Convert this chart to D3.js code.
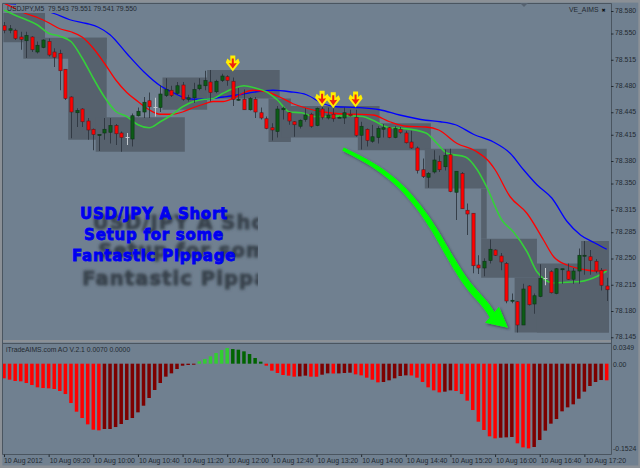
<!DOCTYPE html>
<html><head><meta charset="utf-8">
<script src="https://cdn.jsdelivr.net/npm/d3@7/dist/d3.min.js"></script>
<style>
html,body{margin:0;padding:0;background:#708090;overflow:hidden}
svg{display:block}
text{font-family:"Liberation Sans",Arial,sans-serif;white-space:pre}
</style></head><body>
<svg id="c" width="640" height="468"></svg>
<script>
// All price arrays are thousandths above PRICE_BASE.
const PRICE_BASE = 78;
const high = [564,560,555,551,551,545,538,541,542,529,527,501,465,449,449,436,422,414,436,436,428,418,416,442,450,464,470,463,480,489,479,484,484,467,483,489,499,500,487,495,493,490,476,474,464,464,450,438,429,452,451,444,432,434,449,443,450,451,450,449,438,450,447,447,431,422,427,425,428,424,425,424,419,419,398,382,364,393,386,394,395,365,364,322,309,253,249,274,261,256,244,202,192,215,213,202,241,236,233,236,235,242,236,262,272,260,248,236,223];
const low = [549,549,540,527,516,524,522,529,518,504,473,460,409,424,424,407,393,392,407,402,400,391,400,398,438,436,436,438,444,464,464,467,459,458,456,473,473,458,469,484,479,452,459,447,446,436,434,421,406,410,434,427,411,422,431,423,425,434,434,431,436,428,438,411,394,398,403,402,410,409,409,415,402,395,362,356,343,362,364,366,337,300,315,280,229,228,225,242,252,233,189,189,150,160,186,175,197,213,202,201,215,220,215,215,227,227,229,206,192];
const open = [559,553,553,544,539,544,524,530,538,524,522,501,464,443,448,432,421,413,416,417,426,416,410,408,439,444,459,450,450,466,473,469,480,461,463,475,479,484,471,486,491,485,460,461,447,461,443,435,423,418,447,443,431,425,434,441,426,448,436,441,436,436,441,437,413,421,405,410,421,423,410,421,416,404,396,367,357,364,378,371,387,337,362,313,309,240,236,246,260,252,242,192,191,160,212,188,198,222,231,202,234,232,221,232,252,251,245,233,212];
const close = [553,555,542,541,546,527,533,540,520,517,499,462,444,446,431,420,414,414,421,426,415,410,410,439,445,457,451,450,468,474,466,479,461,463,474,480,486,470,485,492,486,461,461,447,462,444,436,422,420,448,449,432,427,433,440,425,449,437,440,435,437,443,439,413,425,406,411,422,423,410,422,417,403,396,366,358,362,380,367,386,338,365,315,308,239,236,245,261,253,244,192,193,160,208,187,199,222,222,203,235,235,221,232,253,253,246,232,213,207];

const greenBars = [0,2,4,6,8,10,12,14,16,18,20,22,24,26,28,30,32,34,36,37.5,39.25,41,43,45,47,49,51.2,53.3,55.4,58,61.4,64.3,66.1,69.1,71.5,75.6,77.6,79.4,82.7,84.8,86.5,89.2,91.3,93.7,95.5,98.5,100.9,103.3,106.3,108];
const greenVals = [580,573,567,560,549,545,538,516,489,464,445,438,427,423,431,440,451,458,461,462,469,475,479,476,471,460,444,443,438,438,439,438,433,423,422,416,402,389,384,367,344,300,284,258,231,216,217,218,225,232];
const redBars = [0,2,4,6,8,10,12,14,16,18,20,22,24,26,28,30,32,34,36,37.5,39.25,41,42.8,44.6,47,49.4,51.8,54.2,57.2,59.6,63.1,66.1,69.1,72.1,75.6,77.9,81.2,84.5,86.9,88,90.7,93.7,96.7,98.5,100.9,103.9,106.3,108];
const redVals = [589,582,575,570,563,555,551,544,529,509,487,470,458,447,441,441,444,450,455,458,458,462,469,473,471,464,455,449,444,442,441,440,431,425,424,420,402,392,378,367,331,309,273,251,240,234,232,233];
const blueBars = [0,2.3,9.1,11.8,14.8,16.9,19,22,25,28,30,32,34,36,39.25,42.2,45.2,48.2,51.2,54.2,57.2,59.6,63.1,67.3,70.9,75.6,78.2,80.9,84.2,87.7,90.7,93.1,95.5,98.2,100.9,103.3,105.7,108];
const blueVals = [589,588,575,567,562,557,547,522,498,479,471,464,461,461,464,467,471,473,471,467,455,451,450,447,440,433,431,427,414,404,389,367,347,329,298,280,270,261];

// shaded supply / demand zones: start bar, end bar, upper and lower price
const zoneStart = [-0.1,3.46,11.5,16.43,28.4,36.4,47.4,49.7,63.4,75.4,85.5,85.5,91.5,95.5,103.4];
const zoneEnd   = [7.35,18.4,18.4,32.4,36.4,49.4,51.4,67.3,76.5,86.5,86.5,95.5,108.4,108.4,108.4];
const zoneTop   = [576,543,543,437,490,500,462,452,429,395,342,275,223,242,272];
const zoneBot   = [537,515,407,391,447,462,404,410,393,342,275,223,150,150,233];

const signalBars = [41,57,59,63];
const signalVals = [498,451,449,450];

const aoValues = [-.0247,-.0270,-.0292,-.0298,-.0326,-.0360,-.0399,-.0411,-.0416,-.0427,-.0461,-.0512,-.0664,-.0810,-.0917,-.1024,-.1114,-.1125,-.1102,-.1102,-.1069,-.1018,-.0950,-.0917,-.0821,-.0709,-.0579,-.0444,-.0326,-.0219,-.0163,-.0090,-.0034,-.0022,-.0017,.0039,.0079,.0124,.0180,.0231,.0264,.0247,.0236,.0208,.0163,.0096,.0034,-.0034,-.0118,-.0157,-.0191,-.0202,-.0219,-.0214,-.0202,-.0219,-.0220,-.0186,-.0163,-.0166,-.0164,-.0157,-.0152,-.0180,-.0197,-.0236,-.0270,-.0315,-.0309,-.0281,-.0247,-.0208,-.0197,-.0199,-.0236,-.0309,-.0399,-.0450,-.0484,-.0472,-.0450,-.0461,-.0512,-.0624,-.0782,-.0979,-.1119,-.1226,-.1260,-.1249,-.1243,-.1237,-.1344,-.1412,-.1429,-.1406,-.1288,-.1130,-.1012,-.0934,-.0804,-.0737,-.0686,-.0591,-.0472,-.0377,-.0309,-.0276,-.0281];

const priceTicks = [78.580,78.550,78.515,78.480,78.445,78.415,78.380,78.350,78.315,78.285,78.250,78.215,78.180,78.145];
const aoTicks = [0.0349,0,-0.1524];
const aoTickLabels = ["0.0349","0.00","-0.1524"];
const timeTickBars = [0,8,16,24,32,40,48,56,64,72,80,88,96,104];
const timeLabels = ["10 Aug 2012","10 Aug 09:20","10 Aug 10:00","10 Aug 10:40","10 Aug 11:20","10 Aug 12:00","10 Aug 12:40","10 Aug 13:20","10 Aug 14:00","10 Aug 14:40","10 Aug 15:20","10 Aug 16:00","10 Aug 16:40","10 Aug 17:20"];

const titleLines = ["USD/JPY A Short","Setup for some","Fantastic Pippage"];

// big trend arrow, in bars and price thousandths
const trendBars = [60.75,66.1,70.4,74,76.9,79.9,82.9,86.5,87.6];
const trendVals = [394.6,373.3,349.3,320,289.3,251,216,184.4,172];
const trendWidths = [3.5,4.2,4.8,5.2,5.6,6,6.4,7,7];
const headBars = [86.2,88.7,90.3];
const headVals = [163,184.4,156.4];

const BG="#708090", ZONE="#56616d", FRAME="#8b9096", AXISLINE="#4a5560", INK="#232a31";

const x = d3.scaleLinear().domain([0,108]).range([4,606.7]);
const y = d3.scaleLinear().domain([78.58,78.145]).range([10,336.25]);
const yAO = d3.scaleLinear().domain([0.0349,-0.1524]).range([343,454]);
const P = v => PRICE_BASE + v/1000;

const svg = d3.select("#c");
const defs = svg.append("defs");
defs.append("filter").attr("id","soft").attr("x","-20%").attr("y","-20%").attr("width","140%").attr("height","140%")
  .append("feGaussianBlur").attr("stdDeviation",1.5);
const sh = defs.append("filter").attr("id","drop").attr("x","-10%").attr("y","-10%").attr("width","130%").attr("height","130%");
sh.append("feDropShadow").attr("dx",1.5).attr("dy",1.5).attr("stdDeviation",1).attr("flood-color","#2c343c").attr("flood-opacity",.7);
defs.append("clipPath").attr("id","shadowClip").append("rect").attr("x",0).attr("y",190).attr("width",258).attr("height",120);
defs.append("clipPath").attr("id","mainClip").append("rect").attr("x",3).attr("y",3).attr("width",608).attr("height",338);

svg.append("rect").attr("width",640).attr("height",468).attr("fill",BG);

// zones
const main = svg.append("g").attr("clip-path","url(#mainClip)");
main.append("g").selectAll("rect").data(zoneStart).join("rect")
  .attr("x",(d)=>x(d)).attr("width",(d,i)=>x(zoneEnd[i])-x(d))
  .attr("y",(d,i)=>y(P(zoneTop[i]))).attr("height",(d,i)=>y(P(zoneBot[i]))-y(P(zoneTop[i])))
  .attr("fill",ZONE);

// blurred shadow of the title, then moving averages
const shadowG = svg.append("g").attr("clip-path","url(#shadowClip)").append("g").attr("filter","url(#soft)");
shadowG.selectAll("text").data(titleLines).join("text")
  .attr("x",190).attr("y",(d,i)=>229+i*28).attr("text-anchor","middle")
  .attr("font-size",19.5).attr("font-weight",700).style("font-family","'DejaVu Sans'")
  .attr("letter-spacing",1.1)
  .attr("fill","#39434d").attr("stroke","#39434d").attr("stroke-width",1.1).text(d=>d);

const lineGen = (bars)=>d3.line().x((d,i)=>x(bars[i])).y(d=>y(P(d))).curve(d3.curveMonotoneX);
[[blueBars,blueVals,"#0000ff",1.3],[redBars,redVals,"#ff0000",1.3],[greenBars,greenVals,"#35cf3a",1.6]].forEach(([b,v,c,w])=>{
  main.append("path").attr("d",lineGen(b)(v)).attr("fill","none").attr("stroke",c).attr("stroke-width",w);
});

// label backing that hides the lines behind the header text
svg.append("rect").attr("x",16).attr("y",4).attr("width",39).attr("height",9).attr("fill",BG);

// candles
const cg = main.append("g");
high.forEach((h,i)=>{
  const xc = Math.round(x(i))+.5;
  const o=open[i], c=close[i];
  const flat = o===c;
  const up = c>o;
  cg.append("line").attr("x1",xc).attr("x2",xc).attr("y1",y(P(h))).attr("y2",y(P(low[i])))
    .attr("stroke",flat?"#c4c9ce":"#2b343d").attr("stroke-width",1).attr("stroke-opacity",flat?1:.85);
  if(flat){
    cg.append("line").attr("x1",xc-2).attr("x2",xc+2).attr("y1",y(P(o))).attr("y2",y(P(o)))
      .attr("stroke","#c4c9ce").attr("stroke-width",1);
  } else {
    const t=y(P(Math.max(o,c))), b=y(P(Math.min(o,c)));
    cg.append("rect").attr("x",xc-1.6).attr("width",3.2).attr("y",t).attr("height",Math.max(b-t,1))
      .attr("fill",up?"#0c5c16":"#ff0000").attr("stroke",up?"#10301a":"#5b1a1e").attr("stroke-width",.6);
  }
});

// signal arrows
const sg = main.append("g");
signalBars.forEach((b,i)=>{
  const g = sg.append("g").attr("transform",`translate(${x(b)},${y(P(signalVals[i]))})`);
  g.append("path").attr("d","M-2.5,-16L2.5,-16L2.5,-10.5L5.5,-13L7,-9L0,0L-7,-9L-5.5,-13L-2.5,-10.5Z").attr("fill","#ffee00");
  g.append("path").attr("d","M-1,-13L1,-13L1,-8L4,-8.5L0,-3L-4,-8.5L-1,-8Z").attr("fill","#f02010");
});

// trend arrow, built from its centre line
(function(){
  const pts = trendBars.map((b,i)=>[x(b),y(P(trendVals[i]))]);
  const smooth = d3.line().curve(d3.curveCatmullRom);
  const p = svg.append("path").attr("d",smooth(pts)).attr("fill","none");
  const node = p.node(), L = node.getTotalLength(), left=[], right=[];
  const widthAt = d3.scaleLinear().domain(pts.map((_,i)=>i/(pts.length-1))).range(trendWidths);
  for(let s=0;s<=40;s++){
    const t=s/40, a=node.getPointAtLength(t*L), n=node.getPointAtLength(Math.min(L,t*L+.5)), m=node.getPointAtLength(Math.max(0,t*L-.5));
    const dx=n.x-m.x, dy=n.y-m.y, len=Math.hypot(dx,dy)||1, w=widthAt(t)/2;
    left.push([a.x-dy/len*w,a.y+dx/len*w]); right.unshift([a.x+dy/len*w,a.y-dx/len*w]);
  }
  p.remove();
  const g = svg.append("g").attr("filter","url(#drop)");
  g.append("path").attr("d",d3.line()(left.concat(right))+"Z").attr("fill","#00ff00");
  g.append("path").attr("d",d3.line()(headBars.map((b,i)=>[x(b),y(P(headVals[i]))]))+"Z").attr("fill","#00ff00");
})();

// blue title
svg.append("g").selectAll("text").data(titleLines).join("text")
  .attr("x",154).attr("y",(d,i)=>219.3+i*20.9).attr("text-anchor","middle")
  .attr("font-size",15).attr("font-weight",700).style("font-family","'DejaVu Sans'")
  .attr("letter-spacing",.75)
  .attr("fill","#0000f0").attr("stroke","#0000f0").attr("stroke-width",.8).text(d=>d);

// oscillator
const aoG = svg.append("g");
aoG.selectAll("rect").data(aoValues).join("rect")
  .attr("x",(d,i)=>x(i)-1.75).attr("width",3.5)
  .attr("y",d=>Math.min(yAO(0),yAO(d))).attr("height",d=>Math.abs(yAO(d)-yAO(0)))
  .attr("fill",(d,i)=>{
    const falling = i===0 || d<aoValues[i-1];
    if(d<0) return falling?"#ff0000":"#7d0000";
    return falling?"#006400":"#32cd32";
  });

// frame
const frame = svg.append("g");
frame.append("rect").attr("x",0).attr("y",0).attr("width",640).attr("height",2.6).attr("fill",FRAME);
frame.append("rect").attr("x",0).attr("y",0).attr("width",2.4).attr("height",468).attr("fill",FRAME);
frame.append("rect").attr("x",638.3).attr("y",0).attr("width",2).attr("height",468).attr("fill",FRAME);
frame.append("rect").attr("x",0).attr("y",465.5).attr("width",640).attr("height",3).attr("fill",FRAME);
frame.append("rect").attr("x",2).attr("y",340).attr("width",610).attr("height",2.4).attr("fill",FRAME);
frame.append("path").attr("d","M2.5,3.5H611.5V454.5H2.5Z M2.5,343.5H611.5").attr("fill","none").attr("stroke",AXISLINE).attr("stroke-width",1);
frame.append("path").attr("d","M520,3L528,3L524,7Z").attr("fill","#566270");

// axes
const styleAxis = g=>{ g.select(".domain").remove(); g.selectAll("line").attr("stroke",INK);
  g.selectAll("text").attr("fill",INK).attr("font-size",6.9).style("font-family","'Liberation Sans'"); };
const priceAxis = svg.append("g").attr("transform","translate(611,1)")
  .call(d3.axisRight(y).tickValues(priceTicks).tickFormat(d3.format(".3f")).tickSize(2.5).tickPadding(1.5));
styleAxis(priceAxis);
priceAxis.selectAll("text").attr("dy","0.2em");
const aoAxis = svg.append("g").attr("transform","translate(611,0)")
  .call(d3.axisRight(yAO).tickValues(aoTicks).tickFormat((d,i)=>aoTickLabels[i]).tickSize(0).tickPadding(2));
styleAxis(aoAxis);
aoAxis.selectAll(".tick").attr("transform",(d)=>`translate(0,${d>0?348:d<0?449:364.5})`);
aoAxis.selectAll("text").attr("dy","0.3em");
const timeAxis = svg.append("g").attr("transform","translate(0,454.5)")
  .call(d3.axisBottom(x).tickValues(timeTickBars).tickFormat((d,i)=>timeLabels[i]).tickSize(2.5).tickPadding(2));
styleAxis(timeAxis);
timeAxis.selectAll("text").attr("text-anchor","start").attr("x",(d,i)=>i===0?-0.5:0.5).attr("y",8.3).attr("dy",0);

// header labels
const lab = (t,xp,yp,anchor)=>svg.append("text").attr("x",xp).attr("y",yp).attr("text-anchor",anchor||"start")
  .attr("font-size",6.8).attr("fill",INK).text(t);
lab("USDJPY,M5  79.543 79.551 79.541 79.550",7,11);
lab("VE_AIMS",569,12);
lab("\u2716",601.5,12.3).attr("font-size",5).attr("fill","#0c1014").style("font-family","'DejaVu Sans'");
lab("iTradeAIMS.com AO V.2.1 0.0070 0.0000",6,352.3);
</script>
</body></html>
